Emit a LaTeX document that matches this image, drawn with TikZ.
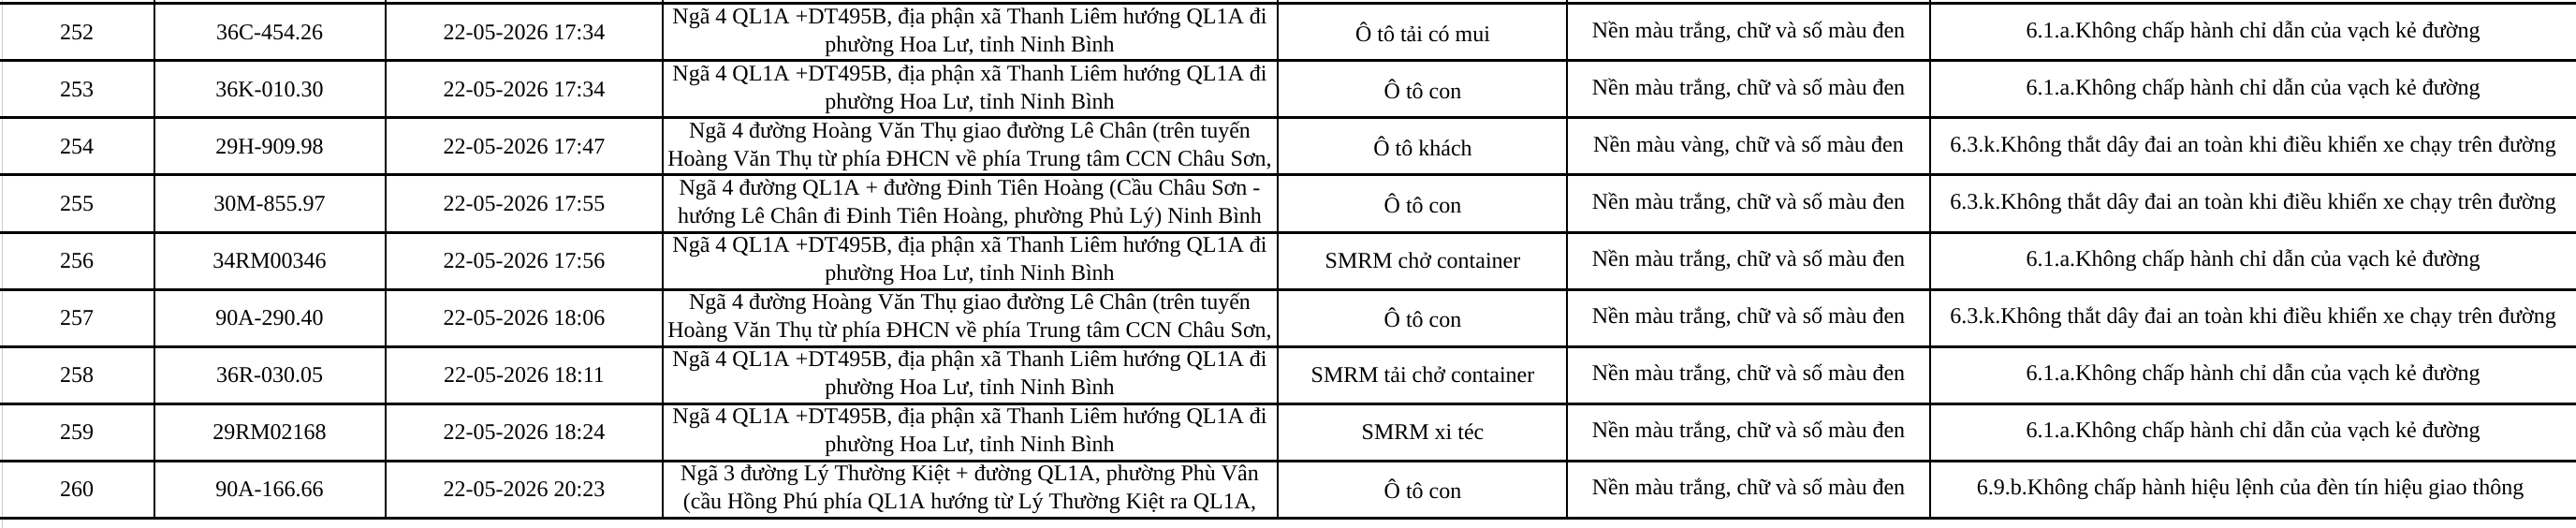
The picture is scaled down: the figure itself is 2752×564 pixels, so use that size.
\documentclass[tikz,border=0pt]{standalone}
\usepackage{fontspec}
\setmainfont{Liberation Serif}
\usetikzlibrary{positioning}

\begin{document}
\begin{tikzpicture}[
        x=1pt, y=-1pt,
        cell/.style={inner sep=0pt, align=center, font=\fontsize{24}{30}\selectfont},
        rowline/.style={line width=3pt},
        colline/.style={line width=1.2pt}
    ]
        \useasboundingbox (0,0) rectangle (2752,564);
        \draw[gray!40, line width=1pt] (2,0) -- (2,564);

        % rows
        \foreach \r/\no/\plate/\time/\addrA/\addrB/\kind/\plaque/\err in {
            0/252/{36C-454.26}/{17:34}/{Ngã 4 QL1A +DT495B, địa phận xã Thanh Liêm hướng QL1A đi}/{phường Hoa Lư, tỉnh Ninh Bình}/{Ô tô tải có mui}/{trắng}/{6.1.a.Không chấp hành chỉ dẫn của vạch kẻ đường},
            1/253/{36K-010.30}/{17:34}/{Ngã 4 QL1A +DT495B, địa phận xã Thanh Liêm hướng QL1A đi}/{phường Hoa Lư, tỉnh Ninh Bình}/{Ô tô con}/{trắng}/{6.1.a.Không chấp hành chỉ dẫn của vạch kẻ đường},
            2/254/{29H-909.98}/{17:47}/{Ngã 4 đường Hoàng Văn Thụ giao đường Lê Chân (trên tuyến}/{Hoàng Văn Thụ từ phía ĐHCN về phía Trung tâm CCN Châu Sơn,}/{Ô tô khách}/{vàng}/{6.3.k.Không thắt dây đai an toàn khi điều khiển xe chạy trên đường},
            3/255/{30M-855.97}/{17:55}/{Ngã 4 đường QL1A + đường Đinh Tiên Hoàng (Cầu Châu Sơn -}/{hướng Lê Chân đi Đinh Tiên Hoàng, phường Phủ Lý) Ninh Bình}/{Ô tô con}/{trắng}/{6.3.k.Không thắt dây đai an toàn khi điều khiển xe chạy trên đường},
            4/256/{34RM00346}/{17:56}/{Ngã 4 QL1A +DT495B, địa phận xã Thanh Liêm hướng QL1A đi}/{phường Hoa Lư, tỉnh Ninh Bình}/{SMRM chở container}/{trắng}/{6.1.a.Không chấp hành chỉ dẫn của vạch kẻ đường},
            5/257/{90A-290.40}/{18:06}/{Ngã 4 đường Hoàng Văn Thụ giao đường Lê Chân (trên tuyến}/{Hoàng Văn Thụ từ phía ĐHCN về phía Trung tâm CCN Châu Sơn,}/{Ô tô con}/{trắng}/{6.3.k.Không thắt dây đai an toàn khi điều khiển xe chạy trên đường},
            6/258/{36R-030.05}/{18:11}/{Ngã 4 QL1A +DT495B, địa phận xã Thanh Liêm hướng QL1A đi}/{phường Hoa Lư, tỉnh Ninh Bình}/{SMRM tải chở container}/{trắng}/{6.1.a.Không chấp hành chỉ dẫn của vạch kẻ đường},
            7/259/{29RM02168}/{18:24}/{Ngã 4 QL1A +DT495B, địa phận xã Thanh Liêm hướng QL1A đi}/{phường Hoa Lư, tỉnh Ninh Bình}/{SMRM xi téc}/{trắng}/{6.1.a.Không chấp hành chỉ dẫn của vạch kẻ đường},
            8/260/{90A-166.66}/{20:23}/{Ngã 3 đường Lý Thường Kiệt + đường QL1A, phường Phù Vân}/{(cầu Hồng Phú phía QL1A hướng từ Lý Thường Kiệt ra QL1A,}/{Ô tô con}/{trắng}/{6.9.b.Không chấp hành hiệu lệnh của đèn tín hiệu giao thông}
        }{
            \pgfmathsetmacro{\yc}{4+61*\r+30.5}
            \node[cell] (no-\r) at (82,\yc) {\no};
            \node[cell] (plate-\r) at (288,\yc) {\plate};
            \node[cell] (time-\r) at (560,\yc) {22-05-2026 \time};
            \node[cell] (addr-\r) at (1036,\yc) {\addrA\\\addrB};
            \node[cell] (kind-\r) at (1520,\yc) {\kind};
            \node[cell] (plaque-\r) at (1868,\yc) {Nền màu \plaque, chữ và số màu đen};
            \node[cell] (err-\r) at (2407,\yc) {\err};
        }

        % grid
        \foreach \k in {0,...,9}
            \draw[rowline] (0,4+61*\k) -- (2752,4+61*\k);
        \foreach \xx in {165,412,708,1365,1674,2062}
            \draw[colline] (\xx,0) -- (\xx,553);
    \end{tikzpicture}
\end{document}
